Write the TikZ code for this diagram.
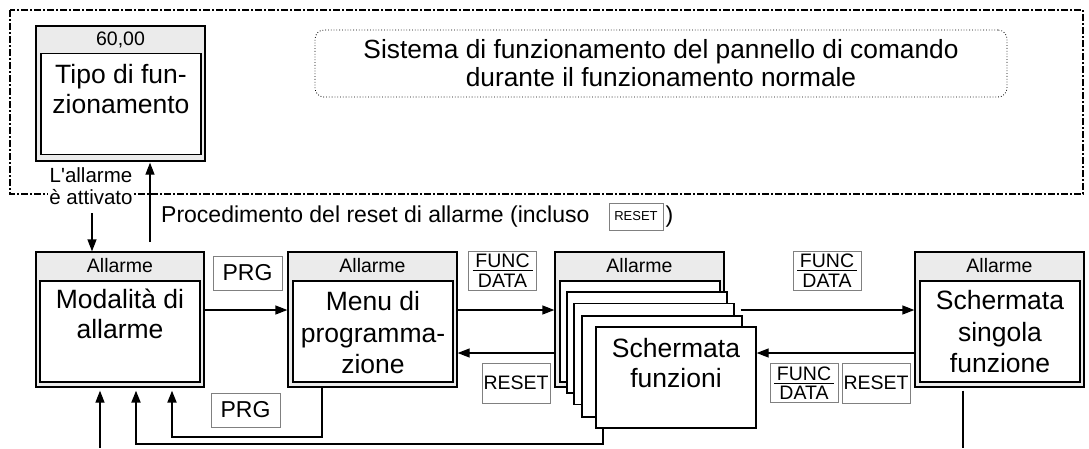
\documentclass[tikz,border=0pt]{standalone}
\usepackage{fontspec}
\setmainfont{Liberation Sans}
\usetikzlibrary{arrows.meta,calc}
\newcommand\fdbox[3]{%
  \node[lbl, minimum width=68pt, minimum height=39pt] (#1) at (#2,#3) {};
  \node[fdtxt] (#1f) at ($(#1.center)+(0,-9.5)$) {FUNC};
  \node[fdtxt] (#1d) at ($(#1.center)+(0,10)$) {DATA};
  \draw[line width=1pt] ($(#1.center)+(-30,0)$) -- ($(#1.center)+(30,0)$);}
\begin{document}
\begin{tikzpicture}[x=1pt,y=-1pt,
  outerbox/.style={draw=black, fill=black!8, line width=1.3pt, minimum width=169pt, minimum height=135pt, inner sep=0pt},
  innerbox/.style={draw=black, fill=white, line width=1.3pt, minimum width=160pt, minimum height=101pt, inner sep=0pt},
  hdr/.style={font=\fontsize{19.5}{22}\selectfont, inner sep=0pt},
  bigtxt/.style={font=\fontsize{26.5}{30}\selectfont, align=center, inner sep=0pt},
  bigtxtc/.style={font=\fontsize{26.5}{31.5}\selectfont, align=center, inner sep=0pt},
  lbl/.style={draw=black!50, fill=white, line width=1pt, inner sep=0pt, font=\fontsize{23}{26}\selectfont},
  fdtxt/.style={font=\fontsize{19.5}{22}\selectfont, inner sep=0pt},
  arr/.style={-{Triangle[length=12pt,width=9pt]}, line width=1.3pt},
  thk/.style={line width=2pt},
]
\useasboundingbox (0,0) rectangle (1089,448);
% outer frame
\draw[line width=1.2pt, dash pattern=on 7pt off 2pt on 2pt off 2pt] (10,10) rectangle (1083,194);
% title
\node[draw, rounded corners=9pt, dotted, line width=0.8pt, minimum width=692pt, minimum height=67pt,
      font=\fontsize{26.3}{28}\selectfont, align=center, inner sep=0pt] (title) at (661,63.5)
  {Sistema di funzionamento del pannello di comando\\durante il funzionamento normale};
% Tipo di funzionamento
\node[outerbox] (tipoout) at (120.5,93.5) {};
\node[hdr] (tipohdr) at (120.5,40) {60,00};
\node[innerbox] (tipoin) at (121,104) {};
\node[bigtxt] (tipotxt) at (121,89) {Tipo di fun-\\zionamento};
% alarm activated
\node[font=\fontsize{20.5}{22}\selectfont, align=center, fill=white, inner sep=1pt] (attiv) at (91,186) {L\textquotesingle allarme\\è attivato};
% procedure text
\node[anchor=west, font=\fontsize{23}{26}\selectfont, inner sep=0pt] (proc) at (161,217) {Procedimento del reset di allarme (incluso};
\node[lbl, font=\fontsize{13}{15}\selectfont, minimum width=54pt, minimum height=27pt] (rsmall) at (636,216.5) {RESET};
\node[anchor=west, font=\fontsize{23}{26}\selectfont, inner sep=0pt] (procend) at ($(rsmall.east)+(2,0)$) {)};
% Modalita di allarme
\node[outerbox, minimum width=168pt] (modout) at (120,319.5) {};
\node[hdr] (modhdr) at (120,266) {Allarme};
\node[innerbox] (modin) at (120,331.5) {};
\node[bigtxt] (modtxt) at (120,314) {Modalità di\\allarme};
% Menu di programmazione
\node[outerbox] (menuout) at (372.5,319.5) {};
\node[hdr] (menuhdr) at (372.5,266) {Allarme};
\node[innerbox] (menuin) at (373,331.5) {};
\node[bigtxtc] (menutxt) at (373,333) {Menu di\\programma-\\zione};
% Schermata funzioni (stack)
\node[outerbox] (stackout) at (639.5,319.5) {};
\node[hdr] (stackhdr) at (639.5,266) {Allarme};
\node[innerbox] (s1) at (640,331.5) {};
\node[innerbox] (s2) at (647,342.5) {};
\node[innerbox] (s3) at (654,354) {};
\node[innerbox] (s4) at (662,366.5) {};
\node[innerbox] (s5) at (676,377.5) {};
\node[bigtxt] (s5txt) at (676,363) {Schermata\\funzioni};
% Schermata singola funzione
\node[outerbox] (sglout) at (999.5,319.5) {};
\node[hdr] (sglhdr) at (999.5,266) {Allarme};
\node[innerbox] (sglin) at (1000,331.5) {};
\node[bigtxtc] (sgltxt) at (1000,332) {Schermata\\singola\\funzione};
% key labels
\node[lbl, minimum width=69pt, minimum height=34pt] (prg1) at (247.5,273) {PRG};
\node[lbl, minimum width=69pt, minimum height=34pt] (prg2) at (245.5,410) {PRG};
\fdbox{fd1}{502.5}{270.5}
\node[lbl, font=\fontsize{19.5}{22}\selectfont, minimum width=68pt, minimum height=40pt] (rst1) at (516,383) {RESET};
\fdbox{fd2}{827}{270.5}
\fdbox{fd3}{804}{383}
\node[lbl, font=\fontsize{19.5}{22}\selectfont, minimum width=68pt, minimum height=40pt] (rst2) at (876,383) {RESET};
% connectors
\coordinate (rowA) at (0,310);
\coordinate (rowB) at (0,353);
\coordinate (a1) at (92,213);
\draw[arr] (a1) -- (a1 |- modout.north);
\coordinate (a2) at (150,242);
\draw[arr] (a2) -- ($(a2 |- tipoout.south)+(0,1)$);
\draw[arr] (modout.east |- rowA) -- (menuout.west |- rowA);
\draw[arr] (menuout.east |- rowA) -- (stackout.west |- rowA);
\draw[arr] (stackout.west |- rowB) -- (menuout.east |- rowB);
\draw[arr] ($(s3.east |- rowA)+(6,0)$) -- (sglout.west |- rowA);
\draw[arr] (sglout.west |- rowB) -- (s5.east |- rowB);
% bottom connectors
\coordinate (b1) at (100,448);
\draw[arr] (b1) -- ($(b1 |- modout.south)+(0,3)$);
\coordinate (b4) at (963,448);
\draw[line width=1.3pt] ($(b4 |- sglout.south)+(0,3)$) -- (b4);
\coordinate (k5) at (603,444);
\coordinate (b2) at (136,444);
\draw[arr,thk] (k5 |- s5.south) -- (k5) -- (b2) -- ($(b2 |- modout.south)+(0,3)$);
\coordinate (k3) at (322,437);
\coordinate (b3) at (172,437);
\draw[arr,thk] (k3 |- menuout.south) -- (k3) -- (b3) -- ($(b3 |- modout.south)+(0,3)$);
\end{tikzpicture}
\end{document}
